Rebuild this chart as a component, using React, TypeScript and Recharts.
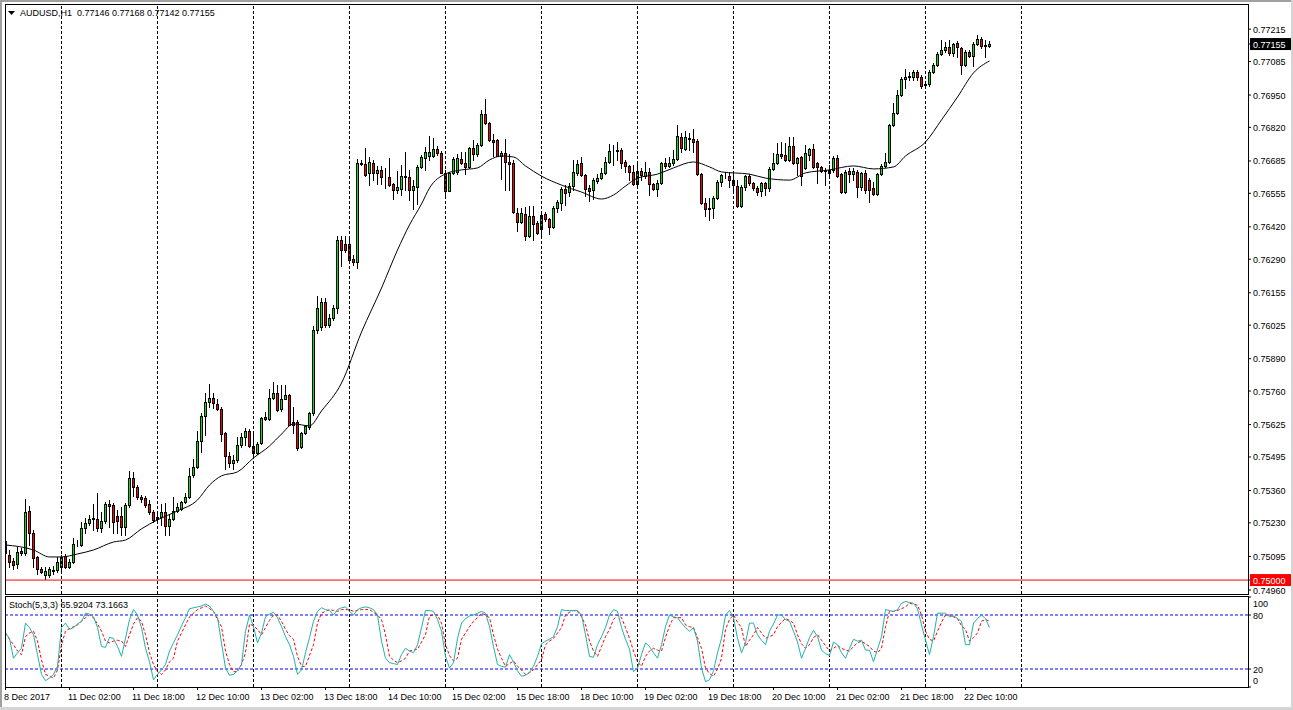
import { Bar, ComposedChart, Line, ReferenceLine, XAxis, YAxis } from 'recharts'

// AUDUSD H1, 247 hourly bars from 8 Dec 2017 10:00
const OPEN = [
  0.75157, 0.75101, 0.75077, 0.75065, 0.75117, 0.75109, 0.75278, 0.75189, 0.75093, 0.75045,
  0.75021, 0.75021, 0.75041, 0.75041, 0.75053, 0.75097, 0.75053, 0.75073, 0.75141, 0.75141,
  0.75210, 0.75230, 0.75246, 0.75246, 0.75210, 0.75238, 0.75306, 0.75302, 0.75258, 0.75258,
  0.75214, 0.75302, 0.75411, 0.75374, 0.75334, 0.75330, 0.75306, 0.75274, 0.75246, 0.75254,
  0.75274, 0.75218, 0.75246, 0.75278, 0.75286, 0.75314, 0.75334, 0.75423, 0.75455, 0.75559,
  0.75660, 0.75716, 0.75732, 0.75708, 0.75688, 0.75591, 0.75499, 0.75471, 0.75483, 0.75543,
  0.75575, 0.75599, 0.75539, 0.75511, 0.75551, 0.75656, 0.75648, 0.75732, 0.75752, 0.75688,
  0.75728, 0.75744, 0.75636, 0.75636, 0.75535, 0.75591, 0.75616, 0.75672, 0.76005, 0.76017,
  0.76118, 0.76025, 0.76054, 0.76094, 0.76367, 0.76351, 0.76351, 0.76291, 0.76279, 0.76673,
  0.76673, 0.76637, 0.76677, 0.76637, 0.76649, 0.76620, 0.76620, 0.76592, 0.76568, 0.76572,
  0.76624, 0.76620, 0.76568, 0.76580, 0.76661, 0.76697, 0.76705, 0.76705, 0.76733, 0.76717,
  0.76637, 0.76564, 0.76637, 0.76641, 0.76693, 0.76677, 0.76661, 0.76737, 0.76713, 0.76749,
  0.76874, 0.76838, 0.76769, 0.76769, 0.76705, 0.76717, 0.76681, 0.76677, 0.76476, 0.76440,
  0.76472, 0.76383, 0.76464, 0.76436, 0.76411, 0.76472, 0.76452, 0.76419, 0.76496, 0.76516,
  0.76572, 0.76560, 0.76584, 0.76637, 0.76677, 0.76628, 0.76576, 0.76568, 0.76604, 0.76616,
  0.76637, 0.76681, 0.76729, 0.76729, 0.76729, 0.76681, 0.76665, 0.76641, 0.76592, 0.76645,
  0.76624, 0.76641, 0.76592, 0.76572, 0.76596, 0.76677, 0.76665, 0.76677, 0.76693, 0.76781,
  0.76733, 0.76777, 0.76773, 0.76765, 0.76632, 0.76516, 0.76492, 0.76496, 0.76536, 0.76600,
  0.76624, 0.76624, 0.76608, 0.76584, 0.76504, 0.76580, 0.76624, 0.76596, 0.76576, 0.76564,
  0.76596, 0.76576, 0.76653, 0.76677, 0.76713, 0.76709, 0.76689, 0.76745, 0.76677, 0.76701,
  0.76657, 0.76709, 0.76733, 0.76677, 0.76661, 0.76645, 0.76637, 0.76649, 0.76697, 0.76632,
  0.76560, 0.76645, 0.76632, 0.76641, 0.76580, 0.76637, 0.76608, 0.76576, 0.76552, 0.76632,
  0.76665, 0.76681, 0.76829, 0.76878, 0.76950, 0.77014, 0.77022, 0.77022, 0.77043, 0.77022,
  0.76990, 0.76994, 0.77043, 0.77071, 0.77115, 0.77131, 0.77143, 0.77119, 0.77159, 0.77139,
  0.77071, 0.77123, 0.77107, 0.77155, 0.77175, 0.77147, 0.77146,
]
const HIGH = [
  0.75173, 0.75121, 0.75089, 0.75133, 0.75129, 0.75326, 0.75298, 0.75201, 0.75097, 0.75053,
  0.75053, 0.75053, 0.75057, 0.75093, 0.75101, 0.75105, 0.75085, 0.75169, 0.75161, 0.75234,
  0.75250, 0.75262, 0.75306, 0.75350, 0.75274, 0.75314, 0.75322, 0.75310, 0.75282, 0.75294,
  0.75310, 0.75439, 0.75435, 0.75382, 0.75342, 0.75338, 0.75322, 0.75282, 0.75266, 0.75306,
  0.75310, 0.75266, 0.75334, 0.75310, 0.75318, 0.75350, 0.75451, 0.75487, 0.75599, 0.75672,
  0.75752, 0.75788, 0.75752, 0.75728, 0.75696, 0.75595, 0.75515, 0.75503, 0.75575, 0.75591,
  0.75611, 0.75607, 0.75595, 0.75555, 0.75656, 0.75676, 0.75768, 0.75796, 0.75784, 0.75784,
  0.75784, 0.75748, 0.75696, 0.75644, 0.75595, 0.75624, 0.75676, 0.76021, 0.76142, 0.76134,
  0.76134, 0.76070, 0.76106, 0.76383, 0.76383, 0.76383, 0.76383, 0.76307, 0.76693, 0.76689,
  0.76737, 0.76701, 0.76689, 0.76665, 0.76665, 0.76657, 0.76697, 0.76596, 0.76645, 0.76669,
  0.76721, 0.76649, 0.76608, 0.76669, 0.76709, 0.76741, 0.76785, 0.76777, 0.76745, 0.76725,
  0.76649, 0.76641, 0.76701, 0.76713, 0.76721, 0.76721, 0.76741, 0.76769, 0.76757, 0.76890,
  0.76934, 0.76842, 0.76793, 0.76773, 0.76725, 0.76773, 0.76713, 0.76689, 0.76496, 0.76496,
  0.76500, 0.76504, 0.76504, 0.76444, 0.76480, 0.76480, 0.76456, 0.76504, 0.76528, 0.76580,
  0.76588, 0.76596, 0.76689, 0.76689, 0.76701, 0.76632, 0.76588, 0.76616, 0.76632, 0.76657,
  0.76701, 0.76753, 0.76749, 0.76761, 0.76737, 0.76689, 0.76669, 0.76669, 0.76681, 0.76657,
  0.76681, 0.76657, 0.76596, 0.76608, 0.76681, 0.76697, 0.76701, 0.76729, 0.76829, 0.76797,
  0.76805, 0.76797, 0.76813, 0.76773, 0.76636, 0.76536, 0.76536, 0.76544, 0.76608, 0.76632,
  0.76641, 0.76641, 0.76641, 0.76608, 0.76588, 0.76628, 0.76632, 0.76600, 0.76584, 0.76600,
  0.76600, 0.76661, 0.76717, 0.76757, 0.76761, 0.76757, 0.76781, 0.76781, 0.76701, 0.76705,
  0.76749, 0.76737, 0.76753, 0.76681, 0.76665, 0.76657, 0.76669, 0.76705, 0.76709, 0.76636,
  0.76649, 0.76657, 0.76657, 0.76649, 0.76641, 0.76649, 0.76616, 0.76600, 0.76636, 0.76673,
  0.76717, 0.76834, 0.76918, 0.76970, 0.77022, 0.77055, 0.77043, 0.77051, 0.77051, 0.77031,
  0.77002, 0.77051, 0.77079, 0.77123, 0.77171, 0.77163, 0.77171, 0.77159, 0.77167, 0.77143,
  0.77131, 0.77131, 0.77163, 0.77191, 0.77183, 0.77171, 0.77168,
]
const LOW = [
  0.75041, 0.75053, 0.75045, 0.75049, 0.75101, 0.75101, 0.75141, 0.75053, 0.75025, 0.75029,
  0.75004, 0.75012, 0.75025, 0.75033, 0.75033, 0.75049, 0.75049, 0.75069, 0.75137, 0.75137,
  0.75189, 0.75222, 0.75201, 0.75197, 0.75193, 0.75230, 0.75214, 0.75189, 0.75189, 0.75181,
  0.75181, 0.75294, 0.75338, 0.75326, 0.75314, 0.75294, 0.75266, 0.75234, 0.75242, 0.75222,
  0.75181, 0.75181, 0.75242, 0.75274, 0.75282, 0.75310, 0.75330, 0.75415, 0.75451, 0.75515,
  0.75583, 0.75696, 0.75692, 0.75684, 0.75559, 0.75447, 0.75455, 0.75447, 0.75475, 0.75535,
  0.75543, 0.75535, 0.75495, 0.75507, 0.75547, 0.75644, 0.75644, 0.75728, 0.75680, 0.75680,
  0.75728, 0.75624, 0.75591, 0.75523, 0.75531, 0.75587, 0.75607, 0.75664, 0.75993, 0.76005,
  0.76017, 0.76017, 0.76046, 0.76074, 0.76263, 0.76319, 0.76279, 0.76267, 0.76255, 0.76669,
  0.76624, 0.76588, 0.76608, 0.76592, 0.76592, 0.76576, 0.76584, 0.76532, 0.76556, 0.76548,
  0.76568, 0.76528, 0.76492, 0.76512, 0.76657, 0.76649, 0.76689, 0.76701, 0.76709, 0.76637,
  0.76536, 0.76564, 0.76633, 0.76633, 0.76673, 0.76633, 0.76657, 0.76689, 0.76705, 0.76745,
  0.76834, 0.76765, 0.76705, 0.76705, 0.76612, 0.76568, 0.76568, 0.76476, 0.76403, 0.76436,
  0.76367, 0.76379, 0.76367, 0.76391, 0.76383, 0.76444, 0.76391, 0.76415, 0.76480, 0.76488,
  0.76508, 0.76544, 0.76568, 0.76629, 0.76624, 0.76544, 0.76524, 0.76532, 0.76596, 0.76612,
  0.76633, 0.76677, 0.76669, 0.76689, 0.76657, 0.76641, 0.76608, 0.76588, 0.76588, 0.76608,
  0.76616, 0.76548, 0.76568, 0.76544, 0.76592, 0.76657, 0.76661, 0.76669, 0.76689, 0.76721,
  0.76729, 0.76729, 0.76721, 0.76628, 0.76512, 0.76464, 0.76448, 0.76456, 0.76532, 0.76584,
  0.76616, 0.76580, 0.76560, 0.76500, 0.76500, 0.76568, 0.76588, 0.76568, 0.76548, 0.76544,
  0.76548, 0.76564, 0.76649, 0.76673, 0.76697, 0.76685, 0.76685, 0.76673, 0.76628, 0.76588,
  0.76653, 0.76689, 0.76657, 0.76596, 0.76641, 0.76588, 0.76628, 0.76641, 0.76620, 0.76556,
  0.76556, 0.76600, 0.76608, 0.76540, 0.76568, 0.76556, 0.76520, 0.76548, 0.76548, 0.76628,
  0.76661, 0.76677, 0.76825, 0.76874, 0.76946, 0.76978, 0.77010, 0.77010, 0.77010, 0.76978,
  0.76978, 0.76986, 0.77039, 0.77067, 0.77111, 0.77123, 0.77111, 0.77107, 0.77103, 0.77035,
  0.77067, 0.77103, 0.77067, 0.77151, 0.77139, 0.77103, 0.77142,
]
const CLOSE = [
  0.75109, 0.75073, 0.75061, 0.75113, 0.75109, 0.75274, 0.75189, 0.75089, 0.75045, 0.75033,
  0.75037, 0.75045, 0.75037, 0.75073, 0.75093, 0.75053, 0.75073, 0.75145, 0.75143, 0.75210,
  0.75230, 0.75246, 0.75250, 0.75210, 0.75238, 0.75306, 0.75298, 0.75234, 0.75238, 0.75214,
  0.75302, 0.75411, 0.75374, 0.75334, 0.75326, 0.75302, 0.75274, 0.75242, 0.75254, 0.75274,
  0.75218, 0.75246, 0.75278, 0.75294, 0.75314, 0.75334, 0.75419, 0.75455, 0.75559, 0.75660,
  0.75716, 0.75732, 0.75712, 0.75688, 0.75587, 0.75499, 0.75471, 0.75483, 0.75543, 0.75575,
  0.75599, 0.75539, 0.75511, 0.75547, 0.75652, 0.75648, 0.75732, 0.75752, 0.75684, 0.75728,
  0.75744, 0.75624, 0.75624, 0.75531, 0.75591, 0.75620, 0.75672, 0.76005, 0.76094, 0.76118,
  0.76025, 0.76054, 0.76094, 0.76367, 0.76327, 0.76327, 0.76287, 0.76279, 0.76677, 0.76675,
  0.76628, 0.76681, 0.76637, 0.76649, 0.76620, 0.76622, 0.76588, 0.76568, 0.76580, 0.76624,
  0.76620, 0.76568, 0.76584, 0.76661, 0.76701, 0.76721, 0.76721, 0.76733, 0.76717, 0.76637,
  0.76564, 0.76637, 0.76693, 0.76697, 0.76677, 0.76661, 0.76737, 0.76713, 0.76749, 0.76874,
  0.76838, 0.76769, 0.76761, 0.76705, 0.76717, 0.76681, 0.76673, 0.76480, 0.76440, 0.76476,
  0.76383, 0.76464, 0.76432, 0.76395, 0.76468, 0.76452, 0.76419, 0.76496, 0.76520, 0.76572,
  0.76556, 0.76584, 0.76641, 0.76673, 0.76628, 0.76572, 0.76564, 0.76608, 0.76616, 0.76637,
  0.76681, 0.76725, 0.76731, 0.76727, 0.76677, 0.76665, 0.76641, 0.76592, 0.76645, 0.76628,
  0.76641, 0.76592, 0.76572, 0.76596, 0.76677, 0.76665, 0.76677, 0.76693, 0.76785, 0.76737,
  0.76781, 0.76773, 0.76761, 0.76632, 0.76516, 0.76492, 0.76496, 0.76536, 0.76600, 0.76628,
  0.76626, 0.76608, 0.76588, 0.76504, 0.76580, 0.76624, 0.76596, 0.76576, 0.76560, 0.76596,
  0.76576, 0.76653, 0.76677, 0.76713, 0.76705, 0.76689, 0.76745, 0.76677, 0.76697, 0.76624,
  0.76717, 0.76733, 0.76661, 0.76661, 0.76645, 0.76647, 0.76649, 0.76697, 0.76624, 0.76560,
  0.76641, 0.76632, 0.76645, 0.76580, 0.76637, 0.76568, 0.76568, 0.76552, 0.76632, 0.76665,
  0.76681, 0.76829, 0.76878, 0.76950, 0.77014, 0.77022, 0.77026, 0.77043, 0.77022, 0.76986,
  0.76994, 0.77043, 0.77071, 0.77115, 0.77131, 0.77143, 0.77119, 0.77155, 0.77143, 0.77071,
  0.77123, 0.77107, 0.77155, 0.77175, 0.77147, 0.77151, 0.77155,
]

// moving average at these bars
const MA_INDEX = [
  0, 7, 11, 14, 18, 22, 27, 30, 34, 38, 43, 48, 51, 54, 58, 62, 66, 69, 72, 76,
  79, 84, 89, 94, 98, 101, 104, 106, 110, 114, 118, 121, 124, 127, 130, 134, 139, 144, 149, 152,
  155, 158, 163, 167, 172, 176, 179, 186, 190, 196, 200, 206, 212, 217, 222, 225, 230, 234, 238, 242,
  246,
]
const MA_VALUE = [
  0.75141, 0.75121, 0.75093, 0.75093, 0.75105, 0.75121, 0.75153, 0.75161, 0.75206, 0.75242,
  0.75278, 0.75322, 0.75382, 0.75419, 0.75435, 0.75491, 0.75539, 0.75587, 0.75628, 0.75620,
  0.75680, 0.75792, 0.75997, 0.76174, 0.76327, 0.76428, 0.76512, 0.76576, 0.76633, 0.76649,
  0.76657, 0.76689, 0.76705, 0.76701, 0.76665, 0.76624, 0.76588, 0.76560, 0.76532, 0.76548,
  0.76584, 0.76616, 0.76632, 0.76657, 0.76681, 0.76661, 0.76641, 0.76632, 0.76616, 0.76608,
  0.76637, 0.76649, 0.76665, 0.76653, 0.76661, 0.76705, 0.76761, 0.76850, 0.76942, 0.77039,
  0.77087,
]

const STOCH_K = [
  60, 54, 32, 38, 43, 71, 66, 58, 36, 14,
  7, 10, 14, 23, 66, 71, 64, 66, 70, 73,
  82, 81, 78, 66, 45, 44, 55, 54, 45, 34,
  54, 75, 86, 80, 66, 43, 28, 8, 14, 19,
  25, 40, 49, 58, 68, 77, 87, 88, 89, 90,
  92, 90, 84, 77, 49, 21, 13, 14, 18, 25,
  62, 80, 67, 49, 60, 78, 81, 83, 77, 67,
  56, 47, 34, 14, 19, 38, 55, 73, 84, 88,
  86, 85, 80, 86, 88, 89, 84, 80, 86, 88,
  89, 88, 86, 80, 51, 32, 27, 26, 25, 36,
  43, 40, 38, 47, 66, 85, 85, 84, 75, 62,
  34, 21, 27, 54, 71, 76, 79, 80, 82, 84,
  82, 67, 45, 25, 23, 22, 36, 28, 18, 12,
  13, 16, 23, 34, 48, 51, 53, 56, 67, 86,
  85, 85, 85, 85, 80, 58, 34, 33, 47, 56,
  66, 80, 86, 84, 66, 53, 42, 17, 21, 36,
  49, 45, 38, 32, 47, 67, 80, 78, 77, 71,
  66, 62, 66, 51, 21, 6, 8, 18, 38, 54,
  80, 85, 77, 54, 38, 49, 71, 71, 58, 52,
  47, 62, 70, 80, 80, 75, 73, 62, 50, 32,
  43, 55, 63, 56, 41, 37, 35, 50, 47, 38,
  32, 43, 53, 51, 52, 41, 41, 28, 42, 56,
  86, 85, 84, 86, 93, 95, 94, 93, 87, 69,
  52, 36, 56, 82, 82, 82, 78, 79, 76, 73,
  47, 47, 71, 76, 80, 76, 65.9204,
]
const STOCH_D = [
  60, 53, 47, 40, 36, 56, 60, 62, 51, 30,
  14, 12, 10, 19, 47, 62, 65, 67, 69, 73,
  77, 80, 77, 70, 62, 51, 49, 51, 52, 51,
  45, 58, 70, 77, 73, 58, 38, 25, 17, 14,
  19, 28, 32, 51, 60, 69, 78, 82, 86, 88,
  90, 87, 84, 75, 67, 40, 25, 17, 17, 25,
  38, 70, 68, 64, 58, 66, 74, 80, 80, 73,
  64, 57, 53, 34, 23, 23, 35, 47, 71, 82,
  84, 86, 85, 84, 86, 86, 86, 84, 85, 86,
  86, 86, 83, 80, 75, 58, 34, 30, 27, 29,
  32, 40, 41, 42, 50, 58, 79, 80, 80, 71,
  47, 35, 29, 32, 53, 60, 67, 73, 77, 82,
  80, 77, 58, 42, 32, 23, 26, 29, 23, 19,
  14, 16, 19, 25, 30, 47, 51, 54, 60, 66,
  80, 83, 85, 84, 78, 69, 51, 40, 34, 45,
  56, 64, 75, 80, 77, 66, 54, 40, 28, 23,
  34, 40, 43, 41, 40, 55, 68, 77, 77, 77,
  69, 67, 66, 55, 43, 21, 15, 12, 20, 32,
  64, 75, 80, 72, 66, 45, 52, 58, 66, 60,
  54, 56, 58, 67, 72, 76, 74, 71, 58, 48,
  43, 47, 55, 58, 52, 46, 40, 43, 46, 43,
  41, 40, 45, 49, 51, 48, 45, 40, 38, 43,
  67, 84, 84, 85, 87, 89, 93, 92, 91, 80,
  62, 53, 51, 62, 72, 80, 80, 78, 76, 68,
  64, 51, 55, 60, 73, 75, 73.1663,
]

const PRICE_TICKS = [
  0.77215, 0.77085, 0.7695, 0.7682, 0.76685, 0.76555, 0.7642, 0.7629, 0.76155,
  0.76025, 0.7589, 0.7576, 0.75625, 0.75495, 0.7536, 0.7523, 0.75095, 0.7496,
]
const BID = 0.77155
const LEVEL = 0.75
const STOCH_TICKS = [0, 20, 80, 100]
const TIME_TICKS = [0, 16, 32, 48, 64, 80, 96, 112, 128, 144, 160, 176, 192, 208, 224, 240]
const TIME_LABELS = [
  '8 Dec 2017', '11 Dec 02:00', '11 Dec 18:00', '12 Dec 10:00', '13 Dec 02:00', '13 Dec 18:00',
  '14 Dec 10:00', '15 Dec 02:00', '15 Dec 18:00', '18 Dec 10:00', '19 Dec 02:00', '19 Dec 18:00',
  '20 Dec 10:00', '21 Dec 02:00', '21 Dec 18:00', '22 Dec 10:00',
]
const DAY_LINES = [14, 38, 62, 86, 110, 134, 158, 182, 206, 230, 254]

const FONT = '"Liberation Sans", Arial, sans-serif'
const X_DOMAIN: [number, number] = [-0.125, 310.625]
const W = 1293

const maAt = new Map(MA_INDEX.map((idx, k) => [idx, MA_VALUE[k]]))
const candles = OPEN.map((o, i) => ({
  i,
  o,
  h: HIGH[i],
  l: LOW[i],
  c: CLOSE[i],
  range: [LOW[i], HIGH[i]],
  ma: maAt.has(i) ? maAt.get(i) : null,
}))
const stoch = STOCH_K.map((k, i) => ({ i, k, d: STOCH_D[i] }))

function Candle(props: any) {
  const { x, y, width, height, payload } = props
  if (x == null || y == null) return null
  const { o, h, l, c } = payload
  const span = h - l || 1
  const cx = Math.floor(x + width / 2) + 0.5
  const top = y + ((h - Math.max(o, c)) / span) * height
  const bot = y + ((h - Math.min(o, c)) / span) * height
  const bTop = Math.round(top) + 0.5
  const bBot = Math.max(Math.round(bot) + 0.5, bTop)
  return (
    <g>
      <line x1={cx} x2={cx} y1={Math.round(y)} y2={Math.round(y + height) + 1} stroke="#000" strokeWidth={1} />
      <rect x={cx - 1} y={bTop} width={2} height={bBot - bTop} fill={c >= o ? '#00e600' : '#ff0000'} stroke="#000" strokeWidth={1} />
    </g>
  )
}

function PriceTick(props: any) {
  const { x, y, payload } = props
  const v = payload.value
  const label = v.toFixed(5)
  if (v === BID || v === LEVEL) {
    return (
      <g>
        <rect x={x - 3} y={y - 6} width={42} height={12} fill={v === BID ? '#000' : '#ff0000'} />
        <text x={x} y={y + 3.5} fill="#fff" fontSize={9} fontFamily={FONT}>{label}</text>
      </g>
    )
  }
  return <text x={x} y={y + 3.5} fill="#000" fontSize={9} fontFamily={FONT}>{label}</text>
}

function StochTick(props: any) {
  const { x, y, payload } = props
  const v = payload.value
  const dy = v === 100 ? 6 : v === 0 ? -7 : 0
  return <text x={x} y={y + dy + 3.5} fill="#000" fontSize={9} fontFamily={FONT}>{v}</text>
}

function TimeTick(props: any) {
  const { x, y, payload } = props
  const k = TIME_TICKS.indexOf(payload.value)
  return <text x={x - 1.5} y={y + 8} fill="#000" fontSize={9} fontFamily={FONT}>{TIME_LABELS[k]}</text>
}

export default function App() {
  return (
    <div style={{ position: 'relative', width: W, height: 710, background: '#fff', overflow: 'hidden' }}>
      <style>{'body{margin:0}'}</style>

      <div style={{ position: 'absolute', left: 0, top: 0 }}>
        <ComposedChart width={W} height={597} data={candles} margin={{ top: 4, right: 0, bottom: 3, left: 5 }}>
          <XAxis dataKey="i" type="number" domain={X_DOMAIN} allowDataOverflow hide />
          <YAxis
            orientation="right"
            width={45}
            domain={[0.74944, 0.77316]}
            allowDataOverflow
            ticks={[...PRICE_TICKS, BID, LEVEL]}
            interval={0}
            tickSize={3}
            tickMargin={2}
            tickLine={{ stroke: '#000' }}
            axisLine={false}
            tick={<PriceTick />}
          />
          {DAY_LINES.map((d) => (
            <ReferenceLine key={d} x={d} stroke="#000" strokeDasharray="3 2" />
          ))}
          <ReferenceLine y={LEVEL} stroke="#ff0000" />
          <Bar dataKey="range" barSize={3} shape={<Candle />} isAnimationActive={false} />
          <Line dataKey="ma" type="monotone" stroke="#000" strokeWidth={1} dot={false} connectNulls isAnimationActive={false} />
        </ComposedChart>
      </div>

      <div style={{ position: 'absolute', left: 0, top: 590 }}>
        <ComposedChart width={W} height={120} data={stoch} margin={{ top: 7, right: 0, bottom: 0, left: 5 }}>
          <XAxis
            dataKey="i"
            type="number"
            domain={X_DOMAIN}
            allowDataOverflow
            ticks={TIME_TICKS}
            interval={0}
            height={23}
            tickSize={3}
            tickMargin={2}
            tickLine={{ stroke: '#000' }}
            axisLine={false}
            tick={<TimeTick />}
          />
          <YAxis
            orientation="right"
            width={45}
            domain={[0, 100]}
            ticks={STOCH_TICKS}
            interval={0}
            tickSize={3}
            tickMargin={2}
            tickLine={{ stroke: '#000' }}
            axisLine={false}
            tick={<StochTick />}
          />
          {DAY_LINES.map((d) => (
            <ReferenceLine key={d} x={d} stroke="#000" strokeDasharray="3 2" />
          ))}
          <ReferenceLine y={80} stroke="#0000ff" strokeDasharray="3 2" />
          <ReferenceLine y={20} stroke="#0000ff" strokeDasharray="3 2" />
          <Line dataKey="d" type="linear" stroke="#ff0000" strokeWidth={1} strokeDasharray="3 2" dot={false} isAnimationActive={false} />
          <Line dataKey="k" type="linear" stroke="#20b2aa" strokeWidth={1} dot={false} isAnimationActive={false} />
        </ComposedChart>
      </div>

      <svg width={W} height={710} style={{ position: 'absolute', left: 0, top: 0, pointerEvents: 'none' }}>
        <rect x={0} y={0} width={W} height={2} fill="#a0a0a0" />
        <rect x={0} y={0} width={2} height={710} fill="#a0a0a0" />
        <rect x={W - 2} y={0} width={2} height={710} fill="#d4d4d4" />
        <rect x={0} y={707} width={W} height={3} fill="#d4d4d4" />
        <rect x={5.5} y={4.5} width={1243} height={590} fill="none" stroke="#000" />
        <rect x={5.5} y={596.5} width={1243} height={91} fill="none" stroke="#000" />
        <polygon points="8,11 15,11 11.5,15" fill="#000" />
        <text x={20} y={16} fontSize={9} fontFamily={FONT} fill="#000" style={{ whiteSpace: 'pre' }}>
          {'AUDUSD,H1  0.77146 0.77168 0.77142 0.77155'}
        </text>
        <text x={9} y={608} fontSize={9} fontFamily={FONT} fill="#000">
          Stoch(5,3,3) 65.9204 73.1663
        </text>
      </svg>
    </div>
  )
}
